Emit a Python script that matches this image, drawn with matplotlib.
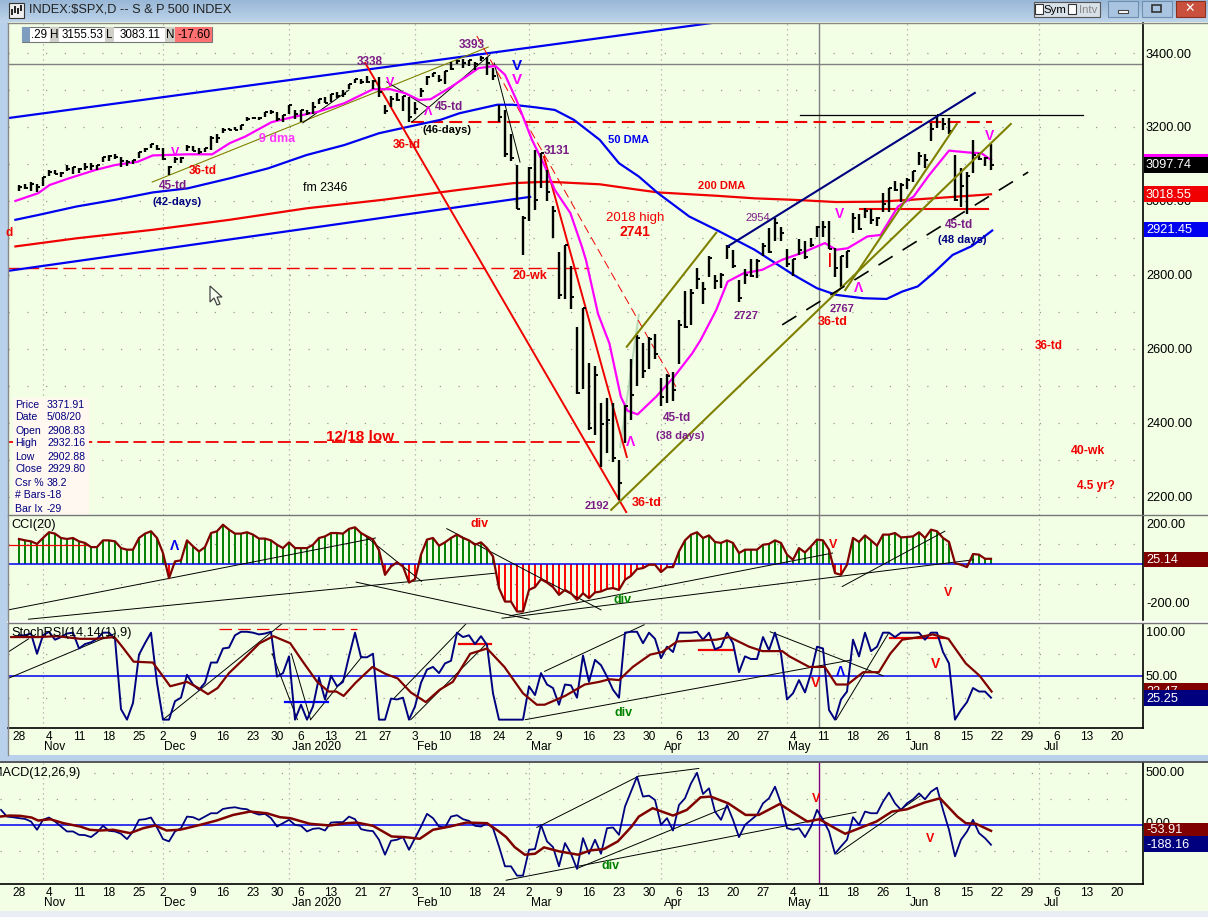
import numpy as np
import matplotlib
matplotlib.use("Agg")
import matplotlib.pyplot as plt
from matplotlib.patches import Rectangle, Polygon

plt.rcParams['font.family'] = ['Liberation Sans', 'DejaVu Sans']

# S&P 500 daily bars, one row per week, 28 Oct 2019 to 19 Jun 2020
high = [3044, 3047, 3050, 3046, 3066,  3084, 3083, 3079, 3097, 3093,  3088, 3102, 3102, 3098, 3120,
        3124, 3127, 3118, 3110, 3112,  3133, 3142, 3154, 3150,  3144, 3095, 3120, 3119, 3150,
        3148, 3143, 3143, 3176, 3182,  3197, 3198, 3199, 3206, 3226,  3227, 3226, 3240, 3247,
        3240, 3231, 3258, 3246,  3246, 3245, 3267, 3275, 3282,  3288, 3295, 3299, 3317, 3329,
        3329, 3337, 3326, 3334,  3259, 3285, 3293, 3285, 3282,  3268, 3306, 3337, 3347, 3341,
        3352, 3375, 3381, 3385, 3380,  3375, 3393, 3389, 3360,  3259, 3246, 3182, 3097, 2960,
        3091, 3137, 3130, 3083, 2985,  2863, 2882, 2825, 2660, 2711,  2562, 2553, 2453, 2466, 2453,
        2300, 2449, 2572, 2638, 2615,  2631, 2641, 2522, 2533, 2538,  2677, 2757, 2761, 2819,
        2782, 2852, 2801, 2806, 2880,  2868, 2785, 2815, 2844, 2842,  2887, 2926, 2954, 2930, 2869,
        2844, 2898, 2891, 2901, 2932,  2945, 2945, 2874, 2852, 2865,  2968, 2964, 2981, 2978, 2957,
        3021, 3036, 3055, 3049,  3062, 3081, 3131, 3128, 3211,  3233, 3223, 3225, 3123, 3088,
        3079, 3165, 3130, 3120, 3155]
low = [3027, 3032, 3026, 3023, 3041,  3067, 3072, 3065, 3080, 3074,  3075, 3084, 3084, 3083, 3104,
       3108, 3113, 3091, 3094, 3099,  3115, 3131, 3143, 3139,  3110, 3070, 3103, 3103, 3134,
       3135, 3126, 3133, 3138, 3156,  3184, 3191, 3191, 3192, 3216,  3222, 3220, 3227, 3234,
       3216, 3213, 3235, 3222,  3214, 3233, 3236, 3263, 3266,  3268, 3278, 3282, 3302, 3318,
       3316, 3320, 3302, 3281,  3234, 3253, 3271, 3242, 3214,  3235, 3280, 3313, 3334, 3322,
       3317, 3355, 3369, 3360, 3366,  3355, 3378, 3341, 3328,  3214, 3118, 3108, 2977, 2855,
       2945, 2976, 3034, 2999, 2901,  2734, 2734, 2707, 2478, 2492,  2380, 2367, 2280, 2319, 2295,
       2192, 2345, 2407, 2500, 2520,  2545, 2572, 2447, 2455, 2459,  2560, 2657, 2664, 2762,
       2721, 2795, 2761, 2764, 2842,  2820, 2727, 2775, 2794, 2791,  2852, 2860, 2891, 2892, 2822,
       2797, 2853, 2844, 2876, 2903,  2903, 2869, 2794, 2766, 2820,  2913, 2922, 2953, 2938, 2933,
       2969, 2969, 3026, 2998,  3032, 3051, 3098, 3090, 3163,  3196, 3193, 3181, 2999, 2984,
       2965, 3075, 3110, 3094, 3083]
close = [3039, 3036, 3046, 3037, 3066,  3078, 3074, 3076, 3085, 3093,  3087, 3091, 3094, 3096, 3120,
         3122, 3120, 3108, 3104, 3110,  3133, 3140, 3153, 3141,  3114, 3093, 3113, 3117, 3146,
         3135, 3133, 3142, 3169, 3169,  3192, 3192, 3191, 3206, 3221,  3224, 3224, 3240, 3240,
         3221, 3231, 3258, 3235,  3246, 3237, 3254, 3275, 3265,  3288, 3283, 3289, 3317, 3329,
         3321, 3321, 3325, 3295,  3243, 3276, 3273, 3283, 3226,  3248, 3298, 3334, 3345, 3328,
         3352, 3358, 3379, 3373, 3380,  3370, 3386, 3373, 3338,  3226, 3128, 3116, 2978, 2954,
         3090, 3003, 3130, 3023, 2972,  2746, 2882, 2741, 2480, 2711,  2386, 2529, 2398, 2409, 2305,
         2237, 2447, 2475, 2630, 2541,  2627, 2585, 2471, 2526, 2489,  2664, 2660, 2750, 2790,
         2762, 2846, 2783, 2800, 2875,  2823, 2737, 2799, 2798, 2837,  2878, 2863, 2939, 2912, 2830,
         2842, 2868, 2848, 2881, 2930,  2930, 2870, 2820, 2852, 2864,  2954, 2923, 2972, 2949, 2955,
         2991, 3036, 3030, 3044,  3056, 3081, 3122, 3112, 3194,  3232, 3207, 3190, 3002, 3041,
         3067, 3125, 3113, 3116, 3098]

# moving averages, bar index and price at the bends
ma9_x = [-0.6, 3.2, 5.1, 8.3, 12.8, 16, 19.8, 22.3, 24.3, 28, 32.2, 35.1, 37.7, 42.1, 46, 49.8, 54.2, 59, 61.9,
         64.4, 66.7, 68.6, 72.1, 76.6, 79.4, 81, 82.9, 85.5, 87.4, 89.3, 91.9, 93.8, 94.5, 96.5, 98.4, 100.3,
         101.4, 103.1, 106.2, 109.2, 112.2, 113.6, 116.2, 118.1, 120.7, 123.9, 127.2, 130.4, 134.3, 136.2,
         138.1, 141.4, 143.6, 146.5, 149.1, 151.7, 155, 158.2, 160.4, 162]
ma9_y = [3000, 3021, 3043, 3061, 3084, 3097, 3106, 3123, 3124, 3126, 3126, 3156, 3174, 3213, 3228, 3241, 3264, 3302, 3302,
         3291, 3273, 3275, 3309, 3359, 3365, 3341, 3273, 3165, 3102, 3030, 2967, 2877, 2840, 2695, 2615, 2471,
         2433, 2423, 2471, 2525, 2588, 2624, 2705, 2782, 2804, 2814, 2841, 2859, 2886, 2868,
         2872, 2904, 2908, 2985, 3012, 3070, 3136, 3131, 3129, 3111]
ma50_x = [-0.6, 3.2, 9.6, 16, 22.3, 28.1, 35.1, 41.5, 47.9, 54.2, 60, 67, 70.2, 73.4, 79.7, 82.3, 86.1, 89.3, 92.5,
          96.8, 100, 103.3, 106.5, 111.7, 116.2, 122.6, 129.1, 133, 136.2, 140.7, 144.6, 147.2, 149.8, 152.4,
          155.6, 158.8, 162.2]
ma50_y = [2949, 2962, 2985, 3003, 3023, 3034, 3061, 3088, 3124, 3151, 3183, 3208, 3219, 3237, 3260, 3260, 3253, 3246, 3219,
          3165, 3102, 3066, 3021, 2958, 2922, 2868, 2800, 2764, 2746, 2737, 2735, 2755, 2769, 2805,
          2854, 2878, 2920]
ma200_x = [-0.6, 9.6, 22.3, 35.1, 47.9, 60.6, 73.4, 82.3, 88, 96.8, 103.3, 106.5, 116.2, 122.6, 129.1, 136.2, 143.3,
           148.5, 154.9, 162]
ma200_y = [2877, 2899, 2922, 2949, 2980, 3003, 3030, 3048, 3052, 3045, 3030, 3023, 3014, 3007, 3003, 2997, 2998,
           3003, 3010, 3018]

# hand drawn lines on the price panel: x0, y0, x1, y1 in bars and points
blue_lines = [(-1.8, 3224, 116.8, 3484), (-1.8, 2811, 85.2, 3011)]
navy_lines = [(118.2, 2878, 159.3, 3292)]
olive_lines = [(98.7, 2165, 165.3, 3208), (101.3, 2606, 116.2, 2914), (137.7, 2759, 156.3, 3208)]
olive_thin = [(22.2, 3051, 78.2, 3416)]
red_lines = [(57.7, 3373, 101.2, 2159), (87.5, 3119, 101.3, 2308)]
red_thin_dash = [(76.3, 3446, 109.8, 2489)]
black_dash = [(127.2, 2665, 168.2, 3078)]
black_thin = [(79.2, 3373, 83.5, 3105), (47.3, 3211, 55, 3300), (65.5, 3214, 78.5, 3395), (61.3, 3322, 68.3, 3251)]

# CCI(20)
cci = [125, 118, 113, 100, 130, 159, 152, 130, 125, 130, 113, 105, 84, 84, 118, 118, 113, 79, 71, 71,
       130, 152, 164, 130, 54, -73, 12, 17, 118, 88, 62, 84, 155, 164, 197, 172, 152, 152, 159, 147,
       127, 127, 118, 96, 79, 108, 79, 79, 79, 96, 130, 138, 155, 155, 152, 176, 184, 155, 138, 122,
       68, -56, -14, 7, -14, -95, -78, 46, 122, 130, 91, 108, 130, 147, 130, 118, 96, 108, 79, 37,
       -123, -191, -191, -241, -241, -132, -118, -78, -95, -118, -157, -132, -149, -182, -149, -174, -145,
       -140, -127, -123, -132, -81, -61, -27, -22, -5, -5, -42, -17, -17, 62, 118, 147, 159, 130, 143, 110,
       105, 118, 105, 54, 71, 71, 71, 96, 100, 118, 105, 46, 20, 79, 57, 88, 122, 118, 71, -47, -56, -5,
       130, 110, 143, 118, 91, 147, 147, 155, 133, 135, 138, 159, 130, 172, 164, 130, 110, 3, -5, -17,
       49, 46, 25, 25]
cci_lines = [(-1.8, -233, 59.4, 130), (1.6, -280, 79.6, -47), (56.2, -93, 85, -280), (57.2, 152, 67.1, -89),
             (71.3, 177, 97, -233), (81.8, -263, 135.6, 54), (80.5, -275, 159.1, 20), (137.2, -115, 154.3, 164)]

# StochRSI(14,14(1),9)
stoch = [96, 96, 98, 75, 96, 100, 91, 94, 98, 99, 81, 86, 88, 92, 99, 99, 92, 12, 0, 19,
         74, 87, 99, 42, 0, 0, 21, 25, 51, 40, 34, 42, 65, 65, 81, 82, 96, 100, 100, 99,
         97, 98, 100, 49, 53, 72, 0, 17, 0, 15, 48, 23, 50, 38, 43, 72, 99, 71, 71, 75,
         0, 0, 24, 23, 25, 0, 15, 42, 57, 60, 53, 64, 67, 99, 94, 96, 86, 95, 85, 30,
         0, 0, 0, 0, 0, 38, 28, 53, 40, 36, 17, 40, 39, 25, 73, 43, 68,
         62, 49, 34, 25, 99, 100, 100, 87, 99, 92, 70, 83, 77, 99, 99, 99, 100, 91, 99, 80,
         83, 99, 87, 54, 72, 69, 69, 94, 79, 99, 75, 23, 30, 45, 31, 53, 83, 81, 11, 0, 23, 32,
         91, 72, 99, 78, 83, 99, 99, 94, 99, 99, 99, 99, 91, 99, 99, 77, 64, 0, 11, 20,
         36, 32, 32, 25]
stoch_sig_x = [-1.3, 3.2, 6.4, 10.2, 12.7, 15.9, 17.2, 19.1, 22.3, 23.6, 25.2, 28, 29.9, 31.5, 33.1, 35, 37.6, 40.1,
               42.4, 45.2, 47.1, 49.7, 51.6, 52.9, 54.1, 56.1, 58.9, 61.1, 63.1, 65.3, 67.8, 70.1, 72.3, 75.2, 78,
               80.9, 84, 86.3, 87.6, 91, 94.3, 96.7, 98.4, 100, 102.3, 105.2, 107.2, 109.7, 116.2, 118.4, 121.7,
               123.9, 127.2, 128.4, 131.7, 134.3, 136.2, 138.1, 140.7, 143.3, 145.2, 147.2, 150.1, 152.3, 154.9,
               157.8, 160.1, 162.1]
stoch_sig_y = [94, 94, 95, 92, 92, 94, 83, 66, 65, 53, 38, 43, 36, 29, 36, 53, 70, 87,
               95, 87, 68, 43, 32, 32, 27, 42, 60, 52, 47, 31, 20, 34, 43, 75, 81,
               60, 30, 17, 17, 27, 40, 43, 46, 45, 60, 74, 77, 89, 91, 94, 83,
               78, 78, 72, 60, 60, 40, 40, 54, 54, 75, 91, 94, 97, 92,
               64, 50, 32]
stoch_lines = [(-1.8, 77, 1.6, 92), (-1.8, 47, 16, 98), (24, 0, 43.8, 109), (42.2, 75, 46.4, 0), (45.4, 75, 48.6, 0),
               (48.6, 0, 57.2, 72), (62.6, 25, 74.5, 109), (65.3, 0, 78, 87), (84.4, 0, 138.8, 68),
               (87.6, 55, 104.2, 108), (125.2, 100, 144, 50), (136.2, 0, 144.9, 98)]

# MACD(12,26,9), starts three bars before the first price bar
macd = [146, 82, 76, 67, 60, 35, -44, 51, 73, 35, -13, -60, -60, -92, -95, -114, -70, -6, -54, -60,
        -82, -133, -60, 51, 57, 73, -22, -133, -155, -60, -29, 82, 76, 51, 82, 114, 114, 155, 165, 171,
        158, 152, 120, 101, 108, 67, -13, 19, 51, 3, -6, -60, -35, -29, -51, 25, 29, 29, 82, 57,
        -38, -51, -57, -139, -282, -149, -139, -114, -235, -124, -13, 108, 67, -13, -22, 82, 95, 57, 41, -6, -13,
        19, -29, -203, -393, -393, -482, -482, -235, -228, 3, -155, -209, -393, -171, -273, -418, -124, -273, -139, -273,
        -29, -22, -92, 178, 320, 463, 273, 282, 241, 3, 67, -51, 193, 257, 399, 501, 298, 352, 130, 51,
        193, 51, -114, 3, 51, 98, 209, 257, 368, 209, -29, -44, -29, -114, -13, 146, 51, -60, -273, -203,
        -139, 76, 3, 130, 114, 114, 225, 311, 209, 146, 209, 247, 304, 247, 320, 358, 146, -44, -298, -139,
        -60, 51, -76, -124, -187]
macd_sig_x = [-3.2, -1.5, 0.2, 2.1, 3.2, 5.2, 7.4, 10.2, 11.8, 13.5, 15.7, 18.5, 20.7, 22.7, 24.6, 26.8, 30.2, 32.9,
              35.7, 38.5, 41.3, 43.5, 45.2, 48.5, 51.8, 54.6, 56.3, 59, 62.1, 64.3, 66.8, 69, 71.8, 74.6, 78, 80,
              81.2, 82.6, 84.3, 86, 87.5, 90, 93.2, 95.2, 97.5, 99.8, 102.1, 103.3, 105.6, 109, 111.3, 113.6, 115.3,
              118.2, 121.1, 123.3, 126.8, 129, 131.4, 133.4, 136, 137.7, 139.4, 142.9, 145.5, 148, 150.9, 153.5,
              156.4, 157.8, 159.5, 162]
macd_sig_y = [82, 92, 89, 73, 44, 57, 19, -13, -44, -51, -44, -76, -29, -3, -51, -44, 3, 44,
              98, 130, 114, 76, 67, 13, -3, 19, 25, -6, -108, -114, -130, -44, -13, 25, 19, -60,
              -114, -209, -282, -273, -212, -250, -282, -241, -228, -155, -13, 82, 162, 92, 146, 266, 273,
              209, 98, 98, 203, 120, 35, 57, -29, -82, -44, 35, 130, 152, 216, 257,
              82, 19, 13, -54]
macd_lines = [(81.2, -526, 139.5, 124), (86.3, -22, 103.3, 469), (103.3, 469, 113.3, 542), (93.2, -409, 118.2, 178),
              (136.3, -276, 150.4, 288)]

# time axis
week_labels = ['28', '4', '11', '18', '25', '2', '9', '16', '23', '30', '6', '13', '21', '27', '3', '10', '18', '24',
               '2', '9', '16', '23', '30', '6', '13', '20', '27', '4', '11', '18', '26', '1', '8', '15', '22', '29',
               '6', '13', '20']
week_bars = [0, 5, 5, 5, 5, 4, 5, 5, 5, 4, 4, 5, 5, 4, 5, 5, 5, 4, 5, 5, 5, 5, 5, 5, 4, 5, 5, 5, 5, 5, 5, 4, 5, 5, 5,
             5, 5, 5, 5]
month_labels = ['Nov', 'Dec', 'Jan 2020', 'Feb', 'Mar', 'Apr', 'May', 'Jun', 'Jul']
month_bars = [4, 24, 45, 66, 85, 107, 128, 148, 170]
cursor_bar = 133.3

W, H = 1208, 917
PANEL = '#F2FFE5'
CHROME = '#B9D1EA'
PURPLE = '#7B1C86'
NAVY = '#00007F'
DARKRED = '#800000'
OLIVE = '#808000'
BLUE = '#0000F0'
RED = '#F00000'


def bar_x(px):
    return (px - 19) / 6.0


def make_axes(top, bottom, left, ymax, ymin):
    ax = fig.add_axes([left / W, 1 - bottom / H, (1143 - left) / W, (bottom - top) / H], facecolor=PANEL)
    ax.set_xlim(bar_x(left), bar_x(1143))
    ax.set_ylim(ymin, ymax)
    ax.set_yticks([])
    for side in ['top', 'left', 'bottom']:
        ax.spines[side].set_visible(False)
    ax.spines['right'].set_color('black')
    ax.spines['right'].set_linewidth(1.2)
    ax.tick_params(axis='x', length=0, labelbottom=False)
    ax.set_xticks([])
    for m in month_bars:
        ax.axvline(m, color='#AAAAAA', lw=0.9, ls=(0, (1, 3)), zorder=0)
    return ax


def draw_lines(ax, lines, **kw):
    for x0, y0, x1, y1 in lines:
        ax.plot([x0, x1], [y0, y1], **kw)


def dots(ax, levels):
    for lev in levels:
        ax.axhline(lev, color='#999999', lw=0.9, ls=(0, (1, 14)), zorder=0)


def date_labels(ax):
    ax.spines['bottom'].set_visible(True)
    ax.spines['bottom'].set_color('black')
    ax.spines['bottom'].set_linewidth(1.2)
    ticks = np.cumsum(week_bars)
    for t, lab in zip(ticks, week_labels):
        ax.annotate(lab, (t, 0), xycoords=ax.get_xaxis_transform(), xytext=(0, -9), textcoords='offset pixels',
                    ha='center', va='center', fontsize=8.6, annotation_clip=False)
    for m, lab in zip(month_bars, month_labels):
        ax.annotate(lab, (m, 0), xycoords=ax.get_xaxis_transform(), xytext=(12 if lab != 'Jan 2020' else 28, -19),
                    textcoords='offset pixels', ha='center', va='center', fontsize=8.6, annotation_clip=False)


fig = plt.figure(figsize=(W / 100, H / 100), dpi=100, facecolor=CHROME)

# window frame, in pixels
bg = fig.add_axes([0, 0, 1, 1], zorder=-5)
bg.set_xlim(0, W)
bg.set_ylim(H, 0)
bg.axis('off')
grad = np.linspace(0, 1, 22)[:, None, None] * (np.array([0.74, 0.83, 0.92]) - np.array([0.60, 0.72, 0.84])) \
    + np.array([0.60, 0.72, 0.84])
bg.imshow(grad, extent=(0, W, 22, 0), aspect='auto', zorder=0)
bg.set_xlim(0, W)
bg.set_ylim(H, 0)
bg.add_patch(Rectangle((8, 22), W - 8, 733, fc=PANEL, ec='none'))
bg.add_patch(Rectangle((0, 763), W, 148, fc=PANEL, ec='none'))
bg.add_patch(Rectangle((0, 911), W, 6, fc='#E8EEF4', ec='none'))
bg.add_patch(Rectangle((0, 755), W, 8, fc=CHROME, ec='none'))

# price panel
ax = make_axes(23, 515, 8, 3481, 2151)
dots(ax, np.arange(2200, 3500, 100))
bars = np.arange(len(high))
ax.axhline(3370, color='#808080', lw=1, zorder=1)
ax.axvline(cursor_bar, color='#808080', lw=1, zorder=1)
ax.plot([-2, 95], [2819, 2819], color=RED, lw=1, ls=(0, (9.4, 4)))
ax.plot([-2, 96], [2349, 2349], color=RED, lw=1.3, ls=(0, (7.2, 2.8)))
ax.plot([65.3, 162.2], [3214, 3214], color=RED, lw=1.5, ls=(0, (6.2, 3)))
ax.plot([130.2, 177.3], [3232, 3232], color='black', lw=0.9)
ax.plot([140.2, 161.5], [2978, 2978], color=RED, lw=1.5)
ax.plot([100.2, 103.3], [2335, 2692], color='#BBDDBB', lw=1.5)
draw_lines(ax, blue_lines, color=BLUE, lw=1.6)
draw_lines(ax, olive_thin, color=OLIVE, lw=0.8)
draw_lines(ax, black_thin, color='black', lw=0.7)
ax.plot(ma200_x, ma200_y, color=RED, lw=1.6)
ax.plot(ma50_x, ma50_y, color=BLUE, lw=1.6)
draw_lines(ax, red_lines, color=RED, lw=1.4)
draw_lines(ax, red_thin_dash, color=RED, lw=0.7, ls=(0, (9, 5)))
ax.plot(ma9_x, ma9_y, color='#FF00FF', lw=1.6)
ax.vlines(bars, low, high, color='black', lw=1.7, zorder=4)
ax.hlines(close, bars, bars + 0.55, color='black', lw=1.4, zorder=4)
draw_lines(ax, olive_lines, color=OLIVE, lw=1.5, zorder=5)
draw_lines(ax, navy_lines, color=NAVY, lw=1.5, zorder=5)
draw_lines(ax, black_dash, color='black', lw=1.2, ls=(0, (10, 7)), zorder=5)

# CCI panel
ax2 = make_axes(516, 620, 8, 241, -284)
dots(ax2, [-100, 100])
ax2.axvline(cursor_bar, color='#808080', lw=1)
x_cci = np.arange(len(cci))
cci_arr = np.array(cci)
ax2.vlines(x_cci[cci_arr >= 0], 0, cci_arr[cci_arr >= 0], color='#008000', lw=1.4)
ax2.vlines(x_cci[cci_arr < 0], 0, cci_arr[cci_arr < 0], color='#FF0000', lw=1.4)
ax2.axhline(0, color=BLUE, lw=1.1)
ax2.plot([-1.8, 11.5], [96, 96], color=RED, lw=0.9)
draw_lines(ax2, cci_lines, color='black', lw=0.7)
ax2.plot(x_cci, cci, color=DARKRED, lw=1.6)

# StochRSI panel
ax3 = make_axes(623, 728, 8, 110, -9.5)
dots(ax3, [25, 75])
ax3.axvline(cursor_bar, color='#808080', lw=1)
ax3.axhline(50, color=BLUE, lw=1.1)
draw_lines(ax3, stoch_lines, color='black', lw=0.7)
ax3.plot([33.3, 56.3], [103, 103], color=RED, lw=0.9, ls=(0, (10, 5)))
ax3.plot([73.4, 78.6], [86, 86], color=RED, lw=1.6)
ax3.plot([44.4, 51.5], [20, 20], color=BLUE, lw=1.6)
ax3.plot([113.3, 119.1], [79, 79], color=RED, lw=1.6)
ax3.plot([145.2, 154.3], [93, 93], color=RED, lw=1.6)
ax3.plot(np.arange(len(stoch)), stoch, color=NAVY, lw=1.4)
ax3.plot(stoch_sig_x, stoch_sig_y, color=DARKRED, lw=1.6)
date_labels(ax3)

# MACD panel
ax4 = make_axes(763, 884, 0, 594, -562)
dots(ax4, [-250, 250, 500])
ax4.axvline(cursor_bar, color='#800080', lw=1)
ax4.axhline(0, color=BLUE, lw=1.1)
draw_lines(ax4, macd_lines, color='black', lw=0.7)
ax4.plot(np.arange(len(macd)) - 3, macd, color=NAVY, lw=1.3)
ax4.plot(macd_sig_x, macd_sig_y, color=DARKRED, lw=1.8)
date_labels(ax4)

# overlay in pixels: tags, toolbar, notes
top = fig.add_axes([0, 0, 1, 1], zorder=10, facecolor='none')
top.set_xlim(0, W)
top.set_ylim(H, 0)
top.axis('off')


def note(px, py, s, color='black', size=8.5, weight='bold', ha='center'):
    top.text(px, py, s, color=color, fontsize=size, fontweight=weight, ha=ha, va='center', parse_math=False)


def box(x0, y0, x1, y1, color, ec='none', lw=0.8):
    top.add_patch(Rectangle((x0, y0), x1 - x0, y1 - y0, fc=color, ec=ec, lw=lw))


# panel rules
top.plot([8, W], [515, 515], color='#777777', lw=1)
top.plot([8, W], [621.5, 621.5], color='#FFFFFF', lw=1.5)
top.plot([8, W], [623, 623], color='#777777', lw=1)
top.plot([8, W], [23, 23], color='#888888', lw=1)
top.plot([0, W], [762, 762], color='#444444', lw=1.2)
top.plot([8, 8], [23, 755], color='#888888', lw=1)

# axis values
for v, y in zip(['3400.00', '3200.00', '3000.00', '2800.00', '2600.00', '2400.00', '2200.00'],
                [55, 128, 202, 276, 350, 424, 498]):
    note(1146, y, v, size=9.2, weight='normal', ha='left')
note(1146, 525, '200.00', size=9.2, weight='normal', ha='left')
note(1146, 604, '-200.00', size=9.2, weight='normal', ha='left')
note(1146, 633, '100.00', size=9.2, weight='normal', ha='left')
note(1146, 677, '50.00', size=9.2, weight='normal', ha='left')
note(1146, 773, '500.00', size=9.2, weight='normal', ha='left')
note(1146, 824, '0.00', size=9.2, weight='normal', ha='left')

# value tags, each one drawn over what lies under it
tag_z = 6
for y0, y1, col, txt in [(157, 173, 'black', '3097.74'), (186, 202, RED, '3018.55'),
                         (222, 237, BLUE, '2921.45'), (552, 567, DARKRED, '25.14'),
                         (683, 700, DARKRED, '23.47'), (690, 706, NAVY, '25.25'),
                         (823, 836, DARKRED, '-53.91'), (836, 852, NAVY, '-188.16')]:
    top.add_patch(Rectangle((1144, y0), W - 1144, y1 - y0, fc=col, ec='none', zorder=tag_z))
    top.text(1146, (y0 + y1) / 2 + 0.5, txt, color='white', fontsize=9.2, ha='left', va='center', zorder=tag_z + 1)
    tag_z += 2
top.add_patch(Rectangle((1144, 154), W - 1144, 3, fc='#FF00FF', ec='none', zorder=6))

# toolbar values
box(22, 27, 212, 42, 'white', ec='#777777')
box(22, 27, 30, 42, '#7F9DBF')
box(50, 27, 59, 42, '#D0D0C8')
box(105, 27, 114, 42, '#D0D0C8')
box(165, 27, 175, 42, '#D0D0C8')
box(175, 27, 212, 42, '#FF7070')
note(39, 35, '.29', size=8.4, weight='normal')
note(54.5, 35, 'H', size=8.4, weight='normal')
note(83, 35, '3155.53', size=8.4, weight='normal')
note(109.5, 35, 'L', size=8.4, weight='normal')
note(140, 35, '3083.11', size=8.4, weight='normal')
note(170, 35, 'N', size=8.4, weight='normal')
note(193.5, 35, '-17.60', size=8.4, weight='normal')

# title bar
box(9, 3, 24, 18, '#EEEEEE', ec='#333333')
top.vlines([12, 15, 18, 21], [9, 6, 8, 5], [15, 13, 14, 11], color='black', lw=1.2)
note(29, 10, 'INDEX:$SPX,D -- S & P 500 INDEX', color='#222222', size=9.2, weight='normal', ha='left')
box(1034, 2, 1100, 17, '#D8E0E8', ec='#555555')
box(1035, 4, 1043, 14, 'white', ec='#333333')
box(1068, 4, 1076, 14, 'white', ec='#333333')
note(1055, 10, 'Sym', size=8.2, weight='normal')
note(1088, 10, 'Intv', color='#888888', size=8.2, weight='normal')
box(1108, 1, 1138, 17, '#A9C4E0', ec='#6F8FB0')
box(1142, 1, 1172, 17, '#A9C4E0', ec='#6F8FB0')
box(1176, 1, 1205, 17, '#C8503C', ec='#8A3020')
box(1118, 10, 1128, 13, 'white', ec='#444444')
box(1152, 5, 1161, 12, 'none', ec='#333333', lw=1.2)
note(1190, 9, '\u2715', color='white', size=9)

# cursor readout
box(13, 398, 89, 515, '#FFF8F0')
read_names = ['Price', 'Date', 'Open', 'High', 'Low', 'Close', 'Csr %', '# Bars', 'Bar Ix']
read_vals = ['3371.91', '5/08/20', '2908.83', '2932.16', '2902.88', '2929.80', '38.2', '-18', '-29']
for k, (a, b) in enumerate(zip(read_names, read_vals)):
    note(15, 404.5 + k * 13, a, color=NAVY, size=7.6, weight='normal', ha='left')
    note(47, 404.5 + k * 13, b, color=NAVY, size=7.6, weight='normal', ha='left')

# mouse pointer
top.add_patch(Polygon([(210, 286), (210, 302), (214, 298), (217, 305), (220, 304), (217, 297), (222, 297)],
                      closed=True, fc='#F6FFF0', ec='#444444', lw=0.9))

# price notes
note(9, 233, 'd', RED)
note(173, 186, '45-td', PURPLE)
note(177, 202, '(42-days)', NAVY, 8)
note(203, 171, '36-td', RED)
note(175, 153, 'V', '#FF00FF', 9)
note(277, 139, '9 dma', '#FF33FF', 9)
note(325, 188, 'fm 2346', 'black', 8.8, 'normal')
note(370, 62, '3338', PURPLE)
note(390, 83, 'V', '#FF00FF', 9)
note(449, 107, '45-td', PURPLE)
note(447, 130, '(46-days)', 'black', 8)
note(407, 145, '36-td', RED)
note(428, 112, '\u039B', '#FF00FF', 9)
note(472, 45, '3393', PURPLE)
note(517, 66, 'V', BLUE, 11)
note(517, 80, 'V', '#FF00FF', 11)
note(557, 151, '3131', PURPLE)
note(629, 140, '50 DMA', BLUE, 8)
note(722, 186, '200 DMA', RED, 8)
note(635, 218, '2018 high', RED, 9.5, 'normal')
note(635, 232, '2741', RED, 10)
note(530, 276, '20-wk', RED, 9)
note(360, 437, '12/18 low', RED, 11)
note(758, 218, '2954', PURPLE, 8, 'normal')
note(746, 316, '2727', PURPLE, 8)
note(842, 309, '2767', PURPLE, 8)
note(833, 322, '36-td', RED, 9)
note(840, 214, 'V', '#FF00FF', 10)
note(859, 288, '\u039B', '#FF00FF', 10)
note(830, 260, '|', RED, 10)
note(959, 225, '45-td', PURPLE)
note(962, 240, '(48 days)', NAVY, 8)
note(990, 136, 'V', '#FF00FF', 10)
note(1049, 346, '36-td', RED)
note(1088, 451, '40-wk', RED, 8.8)
note(1096, 486, '4.5 yr?', RED)
note(677, 418, '45-td', PURPLE)
note(680, 436, '(38 days)', PURPLE, 8)
note(631, 442, '\u039B', '#FF00FF', 10)
note(597, 506, '2192', PURPLE, 8)
note(647, 503, '36-td', RED, 9)

# indicator notes
note(11, 525, 'CCI(20)', 'black', 9.2, 'normal', 'left')
note(480, 524, 'div', RED, 9)
note(175, 546, '\u039B', BLUE, 10)
note(623, 600, 'div', '#008000', 9)
note(833, 545, 'V', RED, 9)
note(948, 593, 'V', RED, 9)
note(11, 633, 'StochRSI(14,14(1),9)', 'black', 9.2, 'normal', 'left')
note(624, 713, 'div', '#008000', 9)
note(841, 672, '\u039B', BLUE, 10)
note(816, 683, 'V', RED, 10)
note(936, 664, 'V', RED, 10)
note(-8, 773, 'MACD(12,26,9)', 'black', 9.2, 'normal', 'left')
note(611, 866, 'div', '#008000', 9)
note(816, 799, 'V', RED, 9)
note(930, 839, 'V', RED, 9)

fig.savefig('out.png', dpi=100, facecolor=fig.get_facecolor())
